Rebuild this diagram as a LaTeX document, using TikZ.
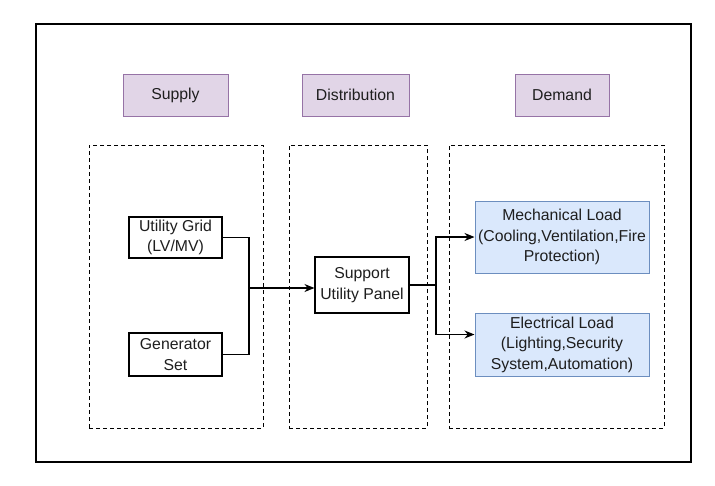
\documentclass[tikz,border=0pt]{standalone}
\usepackage{fontspec}
\setmainfont{Liberation Sans}
\usetikzlibrary{arrows.meta}
\definecolor{hdrfill}{HTML}{E1D5E7}
\definecolor{hdrdraw}{HTML}{9673A6}
\definecolor{loadfill}{HTML}{DAE8FC}
\definecolor{loaddraw}{HTML}{6C8EBF}
\definecolor{txt}{HTML}{1E1E1E}
\begin{document}
\begin{tikzpicture}[x=1pt,y=-1pt,
  every node/.style={font=\fontsize{15.8}{20.5}\selectfont, text=txt, align=center, inner sep=0pt},
  hdr/.style={draw=hdrdraw, fill=hdrfill, line width=1pt},
  group/.style={draw=black, dash pattern=on 4pt off 3pt, line width=0.9pt},
  plainbox/.style={draw=black, fill=white, line width=1.1pt},
  loadbox/.style={draw=loaddraw, fill=loadfill, line width=1pt},
  conn/.style={draw=black, line width=1.1pt},
  arr/.style={conn, -{Stealth[length=10pt,width=8pt]}}
]
\useasboundingbox (0,0) rectangle (715,485);
% outer frame
\node[draw=black, line width=2.5pt, minimum width=655pt, minimum height=438pt] (frame) at (363.5,243) {};
% headers
\node[hdr, minimum width=105pt, minimum height=42pt] (supply) at (175.5,95) {Supply};
\node[hdr, minimum width=107pt, minimum height=42pt] (dist) at (355.5,95) {Distribution};
\node[hdr, minimum width=94pt, minimum height=42pt] (demand) at (562,95) {Demand};
% dashed groups
\node[group, minimum width=174pt, minimum height=283pt] (gsupply) at (176,286.5) {};
\node[group, minimum width=138pt, minimum height=283pt] (gdist) at (358,286.5) {};
\node[group, minimum width=215pt, minimum height=283pt] (gdemand) at (556.5,286.5) {};
% boxes
\node[plainbox, minimum width=93pt, minimum height=41pt] (grid) at (175.5,237.5) {Utility Grid\\(LV/MV)};
\node[plainbox, minimum width=93pt, minimum height=43pt] (gen) at (175.5,354.5) {Generator\\Set};
\node[plainbox, minimum width=94pt, minimum height=56pt] (panel) at (362,285) {Support\\Utility Panel};
\node[loadbox, minimum width=174pt, minimum height=72pt] (mech) at (562,237) {Mechanical Load\\(Cooling,Ventilation,Fire\\Protection)};
\node[loadbox, minimum width=174pt, minimum height=63pt] (elec) at (562,344.5) {Electrical Load\\(Lighting,Security\\System,Automation)};
% connectors
\coordinate (j) at (249,288);
\coordinate (k) at (436,285);
\draw[conn] (grid.east) -| (j);
\draw[conn] (gen.east) -| (j);
\draw[arr] (j) -- (panel.west |- j);
\draw[conn] (panel.east |- k) -- (k);
\draw[arr] (k) |- (mech.west);
\draw[arr] (k) |- ([yshift=10pt]elec.west);
\end{tikzpicture}
\end{document}
